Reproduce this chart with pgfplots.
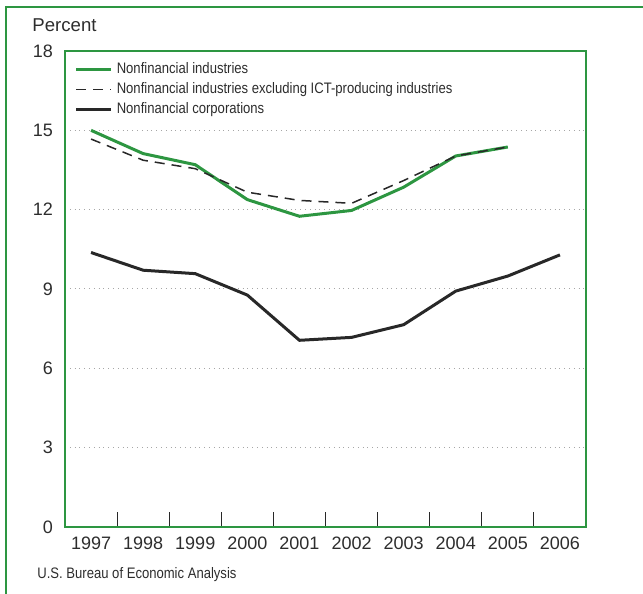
\documentclass[border=0pt]{standalone}
\usepackage{pgfplots}
\pgfplotsset{compat=1.18}
\usepackage{fontspec}
\setmainfont{Liberation Sans}
\newfontfamily\narrowfont[FakeStretch=0.86]{Liberation Sans}
\usetikzlibrary{calc}
\definecolor{bgreen}{RGB}{45,150,65}
\definecolor{dline}{RGB}{40,40,40}
\definecolor{txt}{RGB}{45,45,45}
\begin{document}
\begin{tikzpicture}
\begin{axis}[
  name=ax,
  scale only axis,
  width=260.5pt, height=238pt,
  xmin=0, xmax=10, ymin=0, ymax=18,
  clip=false,
  axis line style={bgreen, line width=1pt},
  xtick={0.5,1.5,...,9.5},
  xticklabels={1997,1998,1999,2000,2001,2002,2003,2004,2005,2006},
  minor xtick={1,2,...,9},
  major tick length=0pt,
  minor tick length=7.5pt,
  tick align=inside,
  xtick pos=bottom,
  ytick pos=left,
  minor tick style={dline, line width=0.5pt},
  ytick={0,3,...,18},
  ymajorgrids,
  grid style={gray!70, dotted, line width=0.5pt},
  tick label style={font=\fontsize{9}{10}\selectfont, text=txt},
  /pgf/number format/assume math mode=true,
  xticklabel style={yshift=-1.5pt},
  yticklabel style={xshift=-2.5pt},
  legend style={draw=none, fill=none, at={(rel axis cs:0.018,0.985)}, anchor=north west,
    font=\narrowfont\fontsize{7.6}{8.5}\selectfont, text=txt, row sep=-1.1pt, inner sep=0pt},
  legend cell align=left,
  legend image code/.code={\draw[#1] (0pt,0pt) -- (17.5pt,0pt);},
]
\addplot[bgreen, line width=1.5pt] coordinates {
 (0.5,15.0) (1.5,14.12) (2.5,13.7) (3.5,12.38) (4.5,11.75) (5.5,11.97) (6.5,12.85) (7.5,14.03) (8.5,14.37)};
\addlegendentry{Nonfinancial industries}
\addplot[dline, line width=0.75pt, dash pattern=on 5pt off 3.5pt] coordinates {
 (0.5,14.67) (1.5,13.87) (2.5,13.55) (3.5,12.66) (4.5,12.35) (5.5,12.24) (6.5,13.1) (7.5,14.03) (8.5,14.37)};
\addlegendentry{Nonfinancial industries excluding ICT-producing industries}
\addplot[dline, line width=1.5pt] coordinates {
 (0.5,10.38) (1.5,9.71) (2.5,9.58) (3.5,8.77) (4.5,7.06) (5.5,7.17) (6.5,7.65) (7.5,8.92) (8.5,9.49) (9.5,10.29)};
\addlegendentry{Nonfinancial corporations}
\node[anchor=west, inner sep=0pt, text=txt, font=\fontsize{9.3}{10}\selectfont] at (rel axis cs:-0.0633,1.0546) {Percent};
\node[anchor=west, inner sep=0pt, text=txt, font=\narrowfont\fontsize{7.6}{9}\selectfont] at (rel axis cs:-0.0537,-0.1) {U.S. Bureau of Economic Analysis};
\end{axis}
\draw[bgreen, line width=1pt] ($(ax.south west)+(-29.5pt,-60pt)$) -- ($(ax.south west)+(-29.5pt,260pt)$) -- ($(ax.south west)+(320pt,260pt)$);
\pgfresetboundingbox
\path[use as bounding box] ($(ax.south west)+(-32.5pt,-33.5pt)$) rectangle ($(ax.south west)+(289pt,263.5pt)$);
\end{tikzpicture}
\end{document}
